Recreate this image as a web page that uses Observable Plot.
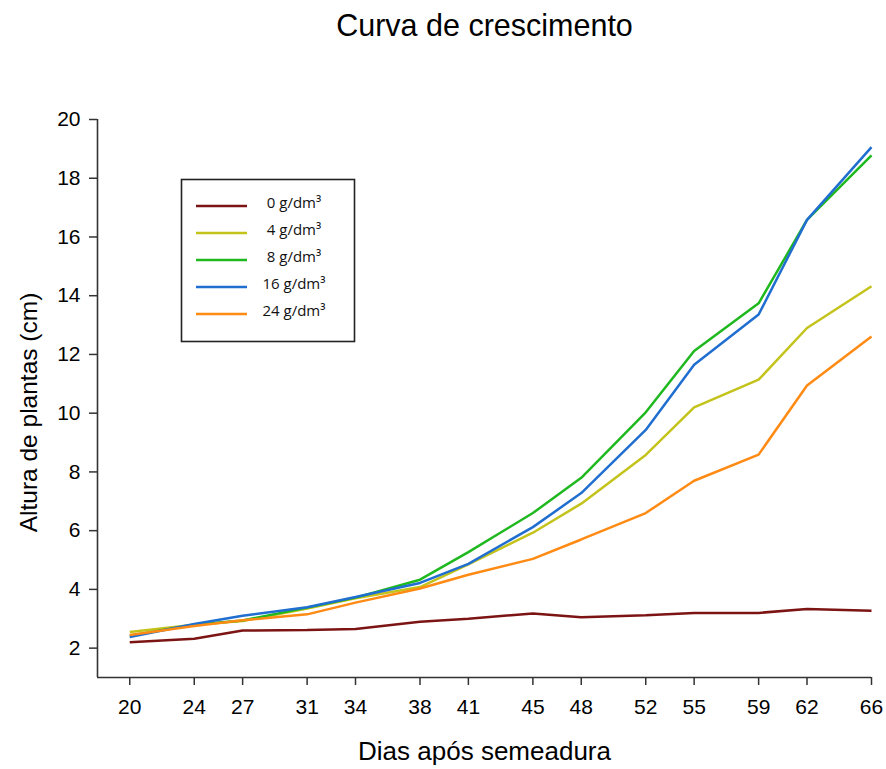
<!DOCTYPE html>
<html>
<head>
<meta charset="utf-8">
<script src="https://cdn.jsdelivr.net/npm/d3@7"></script>
<script src="https://cdn.jsdelivr.net/npm/@observablehq/plot@0.6"></script>
<style>
  html, body { margin: 0; padding: 0; background: #fff; }
  #chart { position: relative; width: 886px; height: 769px; }
</style>
</head>
<body>
<div id="chart"></div>
<script>
// Data
const days = [20, 24, 27, 31, 34, 38, 41, 45, 48, 52, 55, 59, 62, 66];
const seriesNames = ["0 g/dm³", "4 g/dm³", "8 g/dm³", "16 g/dm³", "24 g/dm³"];
const seriesColors = ["#7d1414", "#c3c31c", "#1fb81f", "#1f6ed0", "#ff8a14"];
const g0  = [2.20, 2.32, 2.60, 2.62, 2.65, 2.90, 3.00, 3.18, 3.05, 3.12, 3.20, 3.20, 3.33, 3.27];
const g4  = [2.55, 2.80, 2.92, 3.35, 3.70, 4.08, 4.85, 5.93, 6.92, 8.58, 10.20, 11.14, 12.90, 14.32];
const g8  = [2.42, 2.80, 2.94, 3.38, 3.72, 4.33, 5.27, 6.60, 7.80, 10.03, 12.12, 13.74, 16.58, 18.78];
const g16 = [2.38, 2.82, 3.10, 3.39, 3.74, 4.22, 4.87, 6.12, 7.28, 9.43, 11.65, 13.36, 16.58, 19.06];
const g24 = [2.45, 2.75, 2.95, 3.15, 3.55, 4.03, 4.50, 5.04, 5.70, 6.60, 7.70, 8.59, 10.94, 12.61];
const yTicks = [2, 4, 6, 8, 10, 12, 14, 16, 18, 20];
const titleText = "Curva de crescimento";
const xLabel = "Dias após semeadura";
const yLabel = "Altura de plantas (cm)";

const allSeries = [g0, g4, g8, g16, g24];
const rows = [];
allSeries.forEach((vals, si) => {
  vals.forEach((v, i) => rows.push({day: days[i], value: v, series: seriesNames[si]}));
});

const axisColor = "#333";
const font = "'Liberation Sans', Arial, Helvetica, sans-serif";

const plot = Plot.plot({
  width: 886,
  height: 769,
  marginTop: 119,
  marginBottom: 92,
  marginLeft: 97,
  marginRight: 15,
  style: {fontFamily: font, color: "#000", background: "#fff"},
  x: {domain: [18, 66]},
  y: {domain: [1, 20]},
  color: {domain: seriesNames, range: seriesColors},
  marks: [
    Plot.axisX({ticks: days, tickFormat: d => String(d), tickSize: 8, tickPadding: 14, fontSize: 21, label: null, stroke: axisColor, strokeWidth: 1.5}),
    Plot.axisY({ticks: yTicks, tickSize: 8, tickPadding: 9, fontSize: 21, label: null, stroke: axisColor, strokeWidth: 1.5}),
    Plot.ruleX([18], {stroke: axisColor, strokeWidth: 1.6}),
    Plot.ruleY([1], {stroke: axisColor, strokeWidth: 1.6}),
    Plot.line(rows, {x: "day", y: "value", z: "series", stroke: "series", strokeWidth: 2.5, strokeLinejoin: "miter", strokeLinecap: "butt"}),
    Plot.text([titleText], {frameAnchor: "top", dy: 35 - 119, lineAnchor: "bottom", fontSize: 30.5, fill: "#000"}),
    Plot.text([xLabel], {frameAnchor: "bottom", dy: 759 - 677, lineAnchor: "bottom", fontSize: 26, fill: "#000"}),
    Plot.text([yLabel], {frameAnchor: "left", dx: 29 - 97, dy: 14, rotate: -90, textAnchor: "middle", lineAnchor: "middle", fontSize: 24.5, fill: "#000"})
  ]
});

// Legend box drawn into the same SVG, built from the series arrays
const svg = d3.select(plot);
const lg = svg.append("g").attr("class", "legend");
lg.append("rect")
  .attr("x", 181.5).attr("y", 179.5).attr("width", 173).attr("height", 162)
  .attr("fill", "#fff").attr("stroke", "#222").attr("stroke-width", 1.6);
seriesNames.forEach((name, i) => {
  const yy = 206 + i * 27;
  lg.append("line")
    .attr("x1", 196).attr("x2", 247).attr("y1", yy).attr("y2", yy)
    .attr("stroke", seriesColors[i]).attr("stroke-width", 2.5);
  lg.append("text")
    .attr("x", 294).attr("y", yy - 2)
    .attr("text-anchor", "middle").attr("dominant-baseline", "middle")
    .attr("font-family", "'Open Sans', 'Noto Sans', sans-serif")
    .attr("font-size", 15).attr("fill", "#111")
    .text(name);
});

document.getElementById("chart").appendChild(plot);
</script>
</body>
</html>
